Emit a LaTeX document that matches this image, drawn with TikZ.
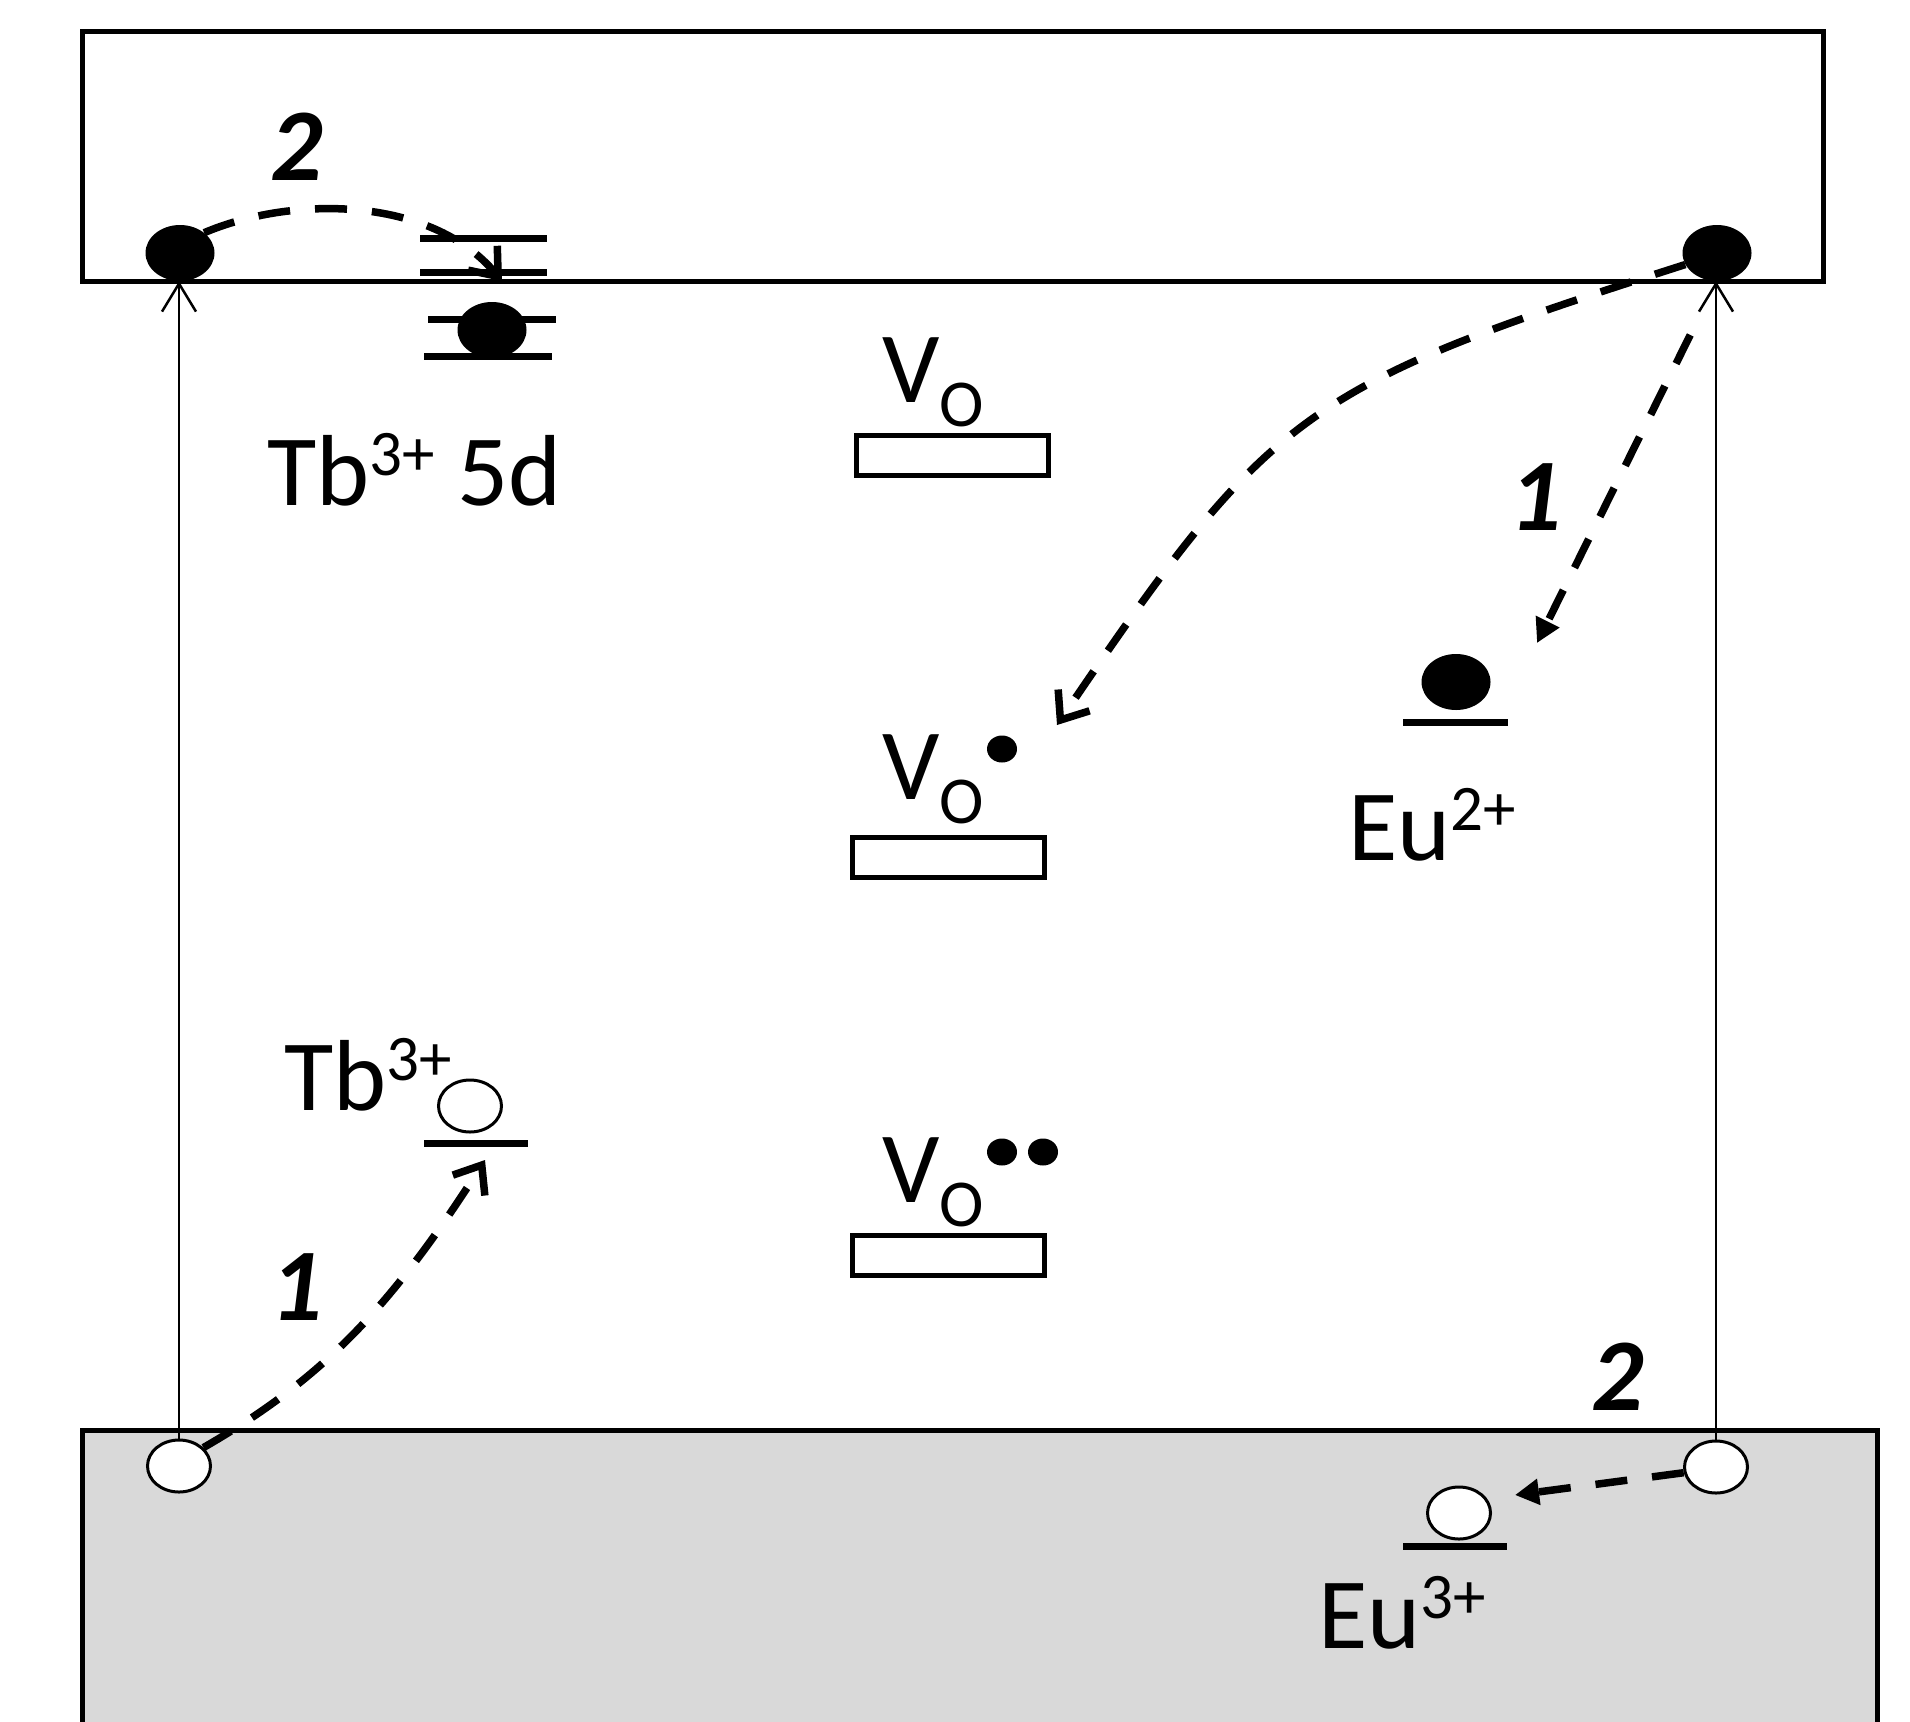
\documentclass[tikz,border=0pt]{standalone}
\usepackage{fontspec}
\setmainfont{Carlito}
\usetikzlibrary{shapes.geometric,arrows.meta}
\definecolor{vbgray}{HTML}{D9D9D9}
\newcommand{\upsc}[1]{\raisebox{30pt}{\fontsize{65}{65}\selectfont #1}}
\newcommand{\subO}{\raisebox{-24pt}{\fontsize{67}{67}\selectfont O}}
\begin{document}
\begin{tikzpicture}[x=1pt,y=-1pt,
  band/.style={line width=5pt},
  elec/.style={ellipse, fill=black, minimum width=69pt, minimum height=56pt, inner sep=0pt},
  hole/.style={ellipse, draw=black, fill=white, line width=3pt, minimum width=63pt, minimum height=52pt, inner sep=0pt},
  vdot/.style={ellipse, fill=black, minimum width=30pt, minimum height=27pt, inner sep=0pt},
  lvl/.style={line width=7pt},
  vbox/.style={draw, line width=5pt, minimum width=192pt, minimum height=40pt, inner sep=0pt},
  lab/.style={font=\fontsize{101}{110}\selectfont, inner sep=0pt, anchor=base west},
  num/.style={font=\fontsize{103}{110}\selectfont\bfseries\itshape, inner sep=0pt, anchor=base},
  dsh/.style={line width=7.5pt, dash pattern=on 32pt off 25pt},
  exc/.style={line width=2.5pt, -{Straight Barb[length=28pt,width=34pt]}},
  openhd/.style={-{Straight Barb[length=24pt,width=38pt]}},
  fillhd/.style={-{Triangle[length=24pt,width=25pt]}}
]
\useasboundingbox (0,0) rectangle (1910,1721);

% valence band (bottom) and conduction band (top)
\fill[vbgray] (82,1430) rectangle (1877,1725);
\draw[band] (82,1730) -- (82,1430) -- (1877,1430) -- (1877,1730);
\draw[band] (82,31) rectangle (1823,281);

% Tb3+ 5d levels
\draw[lvl] (420,238) -- (547,238);
\draw[lvl] (420,272) -- (547,272);
\draw[lvl] (428,319) -- (556,319);
\draw[lvl] (424,356) -- (552,356);
% Eu2+, Tb3+, Eu3+ levels
\draw[lvl] (1403,722) -- (1508,722);
\draw[lvl] (424,1143) -- (528,1143);
\draw[lvl] (1403,1546) -- (1507,1546);

% oxygen vacancy boxes
\node[vbox] (box1) at (952.5,455.5) {};
\node[vbox] (box2) at (948.5,857) {};
\node[vbox] (box3) at (948.5,1255.5) {};
\node[lab] (vo1) at (882,402) {V\subO};
\node[lab] (vo2) at (882,799) {V\subO};
\node[lab] (vo3) at (882,1202) {V\subO};
\node[vdot] (d21) at (1002,749) {};
\node[vdot] (d31) at (1002,1152) {};
\node[vdot] (d32) at (1043,1152) {};

% electrons and holes
\node[elec] (e1) at (180,253) {};
\node[elec] (e2) at (1717,253) {};
\node[elec] (e3) at (492,330) {};
\node[elec] (e4) at (1456,682) {};
\node[hole] (h1) at (470,1106) {};
\node[hole] (h2) at (179,1466) {};
\node[hole] (h3) at (1716,1467) {};
\node[hole] (h4) at (1459,1513) {};

% labels
\node[lab] (tb5d) at (267,505) {Tb\upsc{3+} 5d};
\node[lab] (eu2) at (1348,860) {Eu\upsc{2+}};
\node[lab] (tb3) at (284,1110) {Tb\upsc{3+}};
\node[lab] (eu3) at (1318,1648) {Eu\upsc{3+}};
\node[num] (n2a) at (297,180) {2};
\node[num] (n1a) at (1536,530) {1};
\node[num] (n1b) at (297,1320) {1};
\node[num] (n2b) at (1618,1410) {2};

% arrow end points
\coordinate (t5dtip) at (502,281);
\coordinate (vodtip) at (1057,725);
\coordinate (eu2tip) at (1537,643);
\coordinate (tb3tip) at (485,1160);
\coordinate (eu3tip) at (1515,1495);

% excitation arrows
\draw[exc] (h2.north) -- (h2.north |- e1.south);
\draw[exc] (h3.north) -- (h3.north |- e2.south);

% transfer arrows
\draw[dsh,openhd] (e1.40) .. controls (290,196) and (430,195) .. (t5dtip);
\draw[dsh,openhd] (e2.200) .. controls (1302,387) and (1271,410) .. (vodtip);
\draw[dsh,fillhd,shorten <=60pt] (e2.south) -- (eu2tip);
\draw[dsh,openhd] (h2.37) .. controls (321.75,1379.25) and (389.75,1309.25) .. (tb3tip);
\draw[dsh,fillhd] (h3.190) -- (eu3tip);
\end{tikzpicture}
\end{document}
